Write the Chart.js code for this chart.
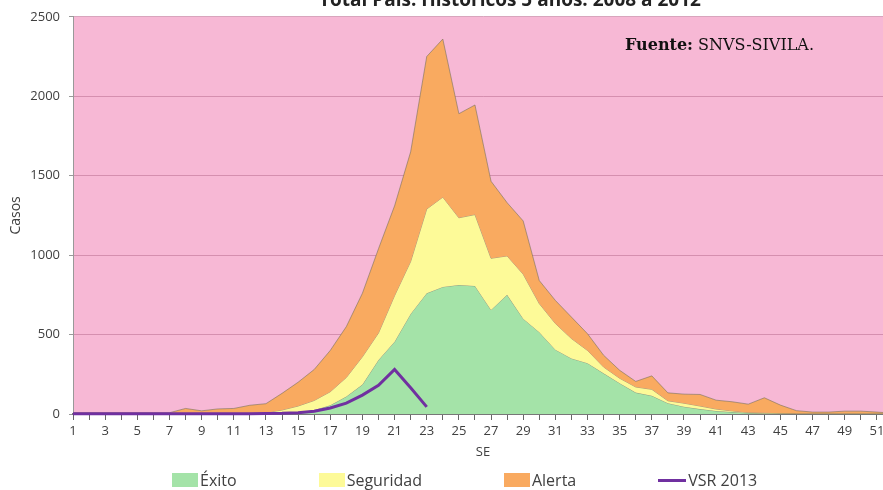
<!DOCTYPE html>
<html>
<head>
<meta charset="utf-8">
<script src="https://cdn.jsdelivr.net/npm/chart.js@4.4.1/dist/chart.umd.min.js"></script>
<style>
  html, body { margin: 0; padding: 0; background: #fff; }
  #wrap { position: relative; width: 883px; height: 490px; overflow: hidden; }
  #chartBox { position: absolute; left: 0; top: 0; }
  #title { position: absolute; left: 0; top: -10px; width: 1020px; text-align: center;
           font: bold 19px "Open Sans"; line-height: 19px; color: #222; white-space: nowrap; }
  #fuente { position: absolute; left: 625px; top: 37px; font: 16px "DejaVu Serif";
            line-height: 16px; color: #111; white-space: nowrap; }
  #legend { position: absolute; left: 172px; top: 471px; display: flex; gap: 82px;
            font: 16px "Open Sans"; color: #404040; line-height: 18px; }
  .item { display: flex; align-items: center; }
  .sw { display: inline-block; margin-right: 2px; }
</style>
</head>
<body>
<div id="wrap">
  <canvas id="chartBox" width="900" height="490"></canvas>
  <div id="title">Total País: Históricos 5 años: 2008 a 2012</div>
  <div id="fuente"><b>Fuente:</b> SNVS-SIVILA.</div>
  <div id="legend"></div>
</div>
<script>
const weeks = ['1','2','3','4','5','6','7','8','9','10','11','12','13','14','15','16','17','18',
  '19','20','21','22','23','24','25','26','27','28','29','30','31','32','33','34','35','36',
  '37','38','39','40','41','42','43','44','45','46','47','48','49','50','51','52'];

// upper edge of each zone (cumulative values)
const exito = [0,0,0,0,0,0,0,0,0,0,0,1,2,3,8,25,55,110,185,340,455,630,760,800,812,806,
  655,750,600,515,405,350,320,256,194,135,115,68,46,31,19,12,6,3,2,1,1,1,1,1,1,1];
const seguridad = [2,2,2,2,2,2,2,3,3,3,3,3,8,25,50,85,140,230,360,510,745,960,1290,1365,1235,1255,
  980,995,880,695,570,475,400,296,225,170,155,83,68,50,31,19,10,8,5,3,3,3,3,3,3,3];
const alerta = [8,8,8,8,8,8,8,35,20,32,35,55,65,130,200,280,400,550,760,1040,1310,1650,2250,2360,1890,1945,
  1465,1330,1215,840,715,610,505,370,275,205,240,133,125,123,87,77,62,102,56,21,12,12,18,18,12,5];
const vsr2013 = [2,2,2,2,2,2,2,2,2,2,2,2,3,4,8,18,38,68,119,181,280,165,45,
  null,null,null,null,null,null,null,null,null,null,null,null,null,null,null,null,null,null,null,null,null,null,null,null,null,null,null,null,null];

const edge = 'rgba(110,110,90,0.55)';

const plotBg = {
  id: 'plotBg',
  beforeDraw(chart) {
    const { ctx, chartArea: a } = chart;
    ctx.save();
    ctx.fillStyle = '#f7b8d5';
    ctx.fillRect(a.left, a.top, a.right - a.left, a.bottom - a.top);
    ctx.restore();
  }
};

const chart = new Chart(document.getElementById('chartBox'), {
  type: 'line',
  data: {
    labels: weeks,
    datasets: [
      { label: 'Éxito', data: exito, fill: 'origin', backgroundColor: '#a4e3a8',
        borderColor: edge, borderWidth: 1, pointRadius: 0, order: 3 },
      { label: 'Seguridad', data: seguridad, fill: '-1', backgroundColor: '#fdfa98',
        borderColor: edge, borderWidth: 1, pointRadius: 0, order: 2 },
      { label: 'Alerta', data: alerta, fill: '-1', backgroundColor: '#f9aa60',
        borderColor: edge, borderWidth: 1, pointRadius: 0, order: 1 },
      { label: 'VSR 2013', data: vsr2013, fill: false, borderColor: '#7030a0',
        borderWidth: 3, pointRadius: 0, order: 0, clip: 6 }
    ]
  },
  options: {
    responsive: false,
    animation: false,
    layout: { padding: { left: 0, right: 7, top: 14, bottom: 26 } },
    plugins: { legend: { display: false }, tooltip: { enabled: false } },
    scales: {
      x: {
        grid: { drawOnChartArea: false, tickLength: 6, color: '#666' },
        border: { color: '#777', width: 2 },
        ticks: {
          autoSkip: false, maxRotation: 0, padding: 3, color: '#404040',
          font: { family: 'Open Sans', size: 13 },
          callback: (v, i) => (i % 2 === 0 ? weeks[i] : '')
        },
        title: { display: true, text: 'SE', color: '#404040',
          font: { family: 'Open Sans', size: 13 }, padding: { top: 2, bottom: 4 } },
        afterFit: s => { s.height = 50; }
      },
      y: {
        min: 0, max: 2500,
        grid: { color: 'rgba(190,115,150,0.6)', tickLength: 4, tickColor: '#999' },
        border: { color: '#999', width: 1 },
        ticks: { stepSize: 500, padding: 9, color: '#404040',
          font: { family: 'Open Sans', size: 13 }, callback: v => String(v) },
        title: { display: true, text: 'Casos', color: '#404040',
          font: { family: 'Open Sans', size: 14 }, padding: { top: 8, bottom: 4 } },
        afterFit: s => { s.width = 73; }
      }
    }
  },
  plugins: [plotBg]
});

// legend built from the datasets
const legend = document.getElementById('legend');
chart.data.datasets.forEach(ds => {
  const item = document.createElement('span');
  item.className = 'item';
  const sw = document.createElement('span');
  sw.className = 'sw';
  if (ds.fill) {
    sw.style.width = '26px'; sw.style.height = '14px'; sw.style.background = ds.backgroundColor;
  } else {
    sw.style.width = '28px'; sw.style.height = '3px'; sw.style.background = ds.borderColor;
  }
  item.appendChild(sw);
  item.appendChild(document.createTextNode(ds.label));
  legend.appendChild(item);
});
</script>
</body>
</html>
